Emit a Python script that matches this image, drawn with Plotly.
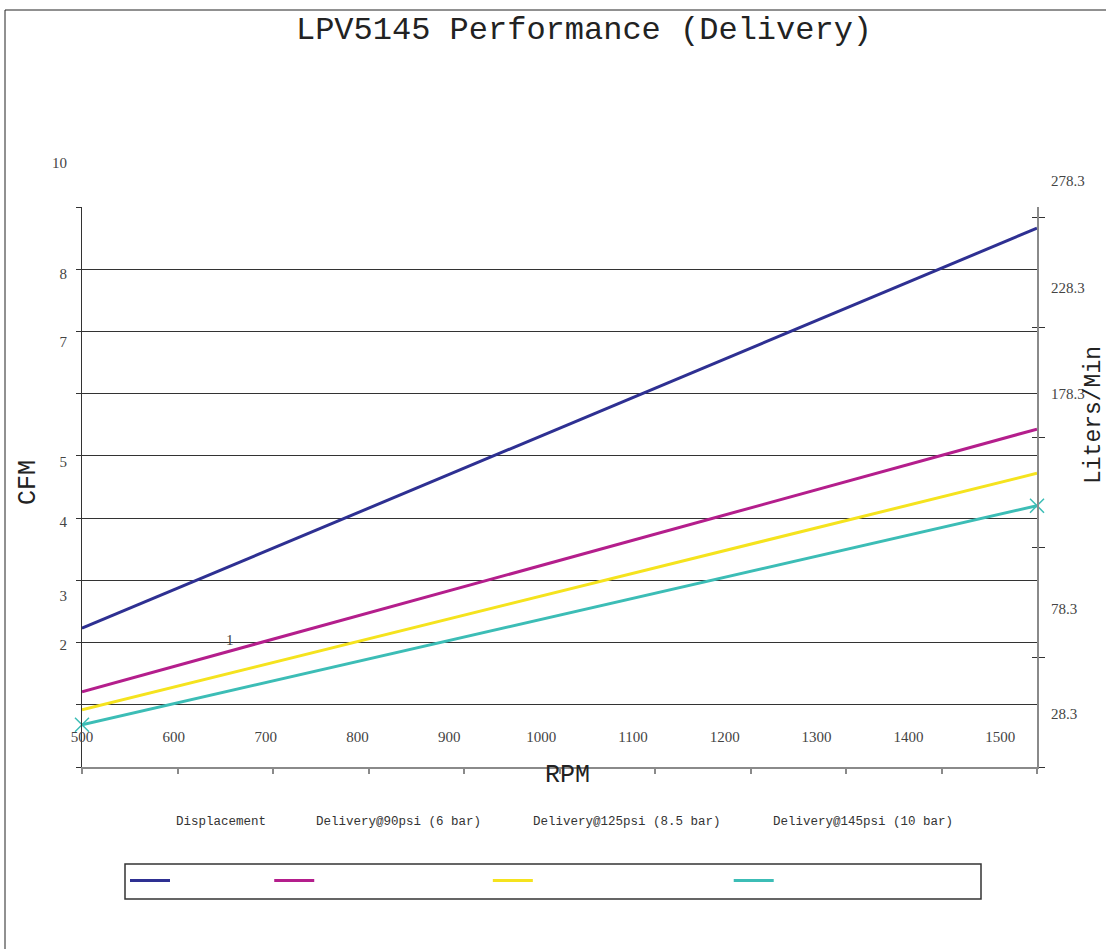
import plotly.graph_objects as go

# ---------------- data ----------------
rpm = [500, 1540]
displacement = [2.23, 8.66]
delivery_90 = [1.21, 5.43]
delivery_125 = [0.92, 4.72]
delivery_145 = [0.68, 4.20]

series_names = ["Displacement", "Delivery@90psi (6 bar)",
                "Delivery@125psi (8.5 bar)", "Delivery@145psi (10 bar)"]
series_colors = ["#2E3092", "#B41E8C", "#F5E31E", "#3CBDB6"]

x_tick_vals = [500, 600, 700, 800, 900, 1000, 1100, 1200, 1300, 1400, 1500]
x_tick_text = [str(v) for v in x_tick_vals]

# left CFM labels (as printed) and their printed positions in CFM units
cfm_label_text = ["10", "8", "7", "5", "4", "3", "2"]
cfm_label_pos = [9.715, 7.93, 6.83, 4.90, 3.94, 2.76, 1.96]

# right Liters/Min labels (as printed) and their printed positions in CFM units
lpm_label_text = ["278.3", "228.3", "178.3", "78.3", "28.3"]
lpm_label_pos = [9.418, 7.707, 6.0, 2.539, 0.86]

# ---------------- layout constants ----------------
W, H = 1106, 949
ML, MR, MT, MB = 82, 69, 140, 182
PW, PH = W - ML - MR, H - MT - MB          # 955 x 627
PX_PER_CFM = 560 / 9
Y_DOMAIN_TOP = 560 / PH
LABEL_RANGE_TOP = PH / PX_PER_CFM

serif = "Liberation Serif"
mono = "Liberation Mono"
grid_col = "#333333"
axis_gray = "#8a8a8a"
label_col = "#444444"


def px(x):
    return (x - ML) / PW


def py(y):
    return (767 - y) / PH


fig = go.Figure()

for name, vals, col in zip(series_names,
                           [displacement, delivery_90, delivery_125, delivery_145],
                           series_colors):
    fig.add_trace(go.Scatter(x=rpm, y=vals, mode="lines", name=name,
                             line=dict(color=col, width=3)))

fig.add_trace(go.Scatter(x=rpm, y=delivery_145, mode="markers", showlegend=False,
                         hoverinfo="skip", cliponaxis=False,
                         marker=dict(symbol="x-thin", size=14,
                                     line=dict(color=series_colors[3], width=1.5))))

# empty traces so that helper axes are drawn
for xa, ya in [("x", "y2"), ("x", "y5"), ("x2", "y"), ("x3", "y"), ("x", "y3"), ("x", "y4")]:
    fig.add_trace(go.Scatter(x=[None], y=[None], xaxis=xa, yaxis=ya,
                             showlegend=False, hoverinfo="skip", mode="lines"))

fig.add_annotation(x=661, y=2.04, xref="x", yref="y", text="1", showarrow=False,
                   xanchor="center", yanchor="middle",
                   font=dict(family=serif, size=15, color=label_col))

# axis titles
fig.add_annotation(x=px(28), y=py(483), xref="paper", yref="paper",
                   text="CFM", textangle=-90, showarrow=False,
                   xanchor="center", yanchor="middle",
                   font=dict(family=mono, size=25, color="#222"))
fig.add_annotation(x=px(567), y=py(775), xref="paper", yref="paper",
                   text="RPM", showarrow=False, xanchor="center", yanchor="middle",
                   font=dict(family=mono, size=25, color="#222"))
fig.add_annotation(x=px(1094), y=py(415), xref="paper", yref="paper",
                   text="Liters/Min", textangle=-90, showarrow=False,
                   xanchor="center", yanchor="middle",
                   font=dict(family=mono, size=23, color="#222"))

# legend captions above the legend box
for name, cx in zip(series_names, [220.5, 398.5, 627, 863]):
    fig.add_annotation(x=px(cx), y=py(822), xref="paper", yref="paper",
                       text=name, showarrow=False, xanchor="center", yanchor="middle",
                       font=dict(family=mono, size=12.5, color="#333"))

# legend box and outer frame
fig.add_shape(type="rect", xref="paper", yref="paper",
              x0=px(125), x1=px(981), y0=py(899), y1=py(864),
              line=dict(color="#333", width=1.5))
fig.add_shape(type="rect", xref="paper", yref="paper",
              x0=px(5), x1=1.3, y0=-0.6, y1=py(10),
              line=dict(color="#222", width=1))

fig.update_layout(
    width=W, height=H,
    margin=dict(l=ML, r=MR, t=MT, b=MB, autoexpand=False),
    paper_bgcolor="white", plot_bgcolor="rgba(0,0,0,0)",
    title=dict(text="LPV5145 Performance (Delivery)", x=584 / W, xref="container",
               y=1 - 28 / H, yref="container", xanchor="center", yanchor="middle",
               font=dict(family=mono, size=32, color="#222")),
    showlegend=True,
    legend=dict(orientation="h", x=px(125), y=py(881),
                xanchor="left", yanchor="middle", bgcolor="rgba(0,0,0,0)",
                borderwidth=0, itemwidth=40,
                font=dict(family=mono, size=12.4, color="rgba(0,0,0,0)")),
    xaxis=dict(range=[500, 1540], domain=[0, 1], showgrid=False, zeroline=False,
               showline=True, linecolor=axis_gray, linewidth=1.5, ticks="",
               showticklabels=False),
    xaxis2=dict(overlaying="x", anchor="y", side="bottom", range=[0, 10], dtick=1,
                tick0=0, showgrid=False, zeroline=False, showline=False,
                ticks="outside", ticklen=6, tickcolor=axis_gray, tickwidth=1.5,
                showticklabels=False),
    xaxis3=dict(overlaying="x", anchor="free", position=0.066, side="bottom",
                range=[500, 1540], tickvals=x_tick_vals, ticktext=x_tick_text,
                showgrid=False, zeroline=False, showline=False, ticks="",
                tickfont=dict(family=serif, size=15, color=label_col)),
    yaxis=dict(domain=[0, Y_DOMAIN_TOP], range=[0, 9], dtick=1, tick0=0,
               showgrid=True, gridcolor=grid_col, gridwidth=1, zeroline=False,
               showline=True, linecolor=grid_col, linewidth=1,
               ticks="outside", ticklen=5, tickcolor=grid_col, showticklabels=False),
    yaxis2=dict(overlaying="y", anchor="x", side="right", range=[0, 560 / 109.9],
                dtick=1, tick0=0, showgrid=False, zeroline=False, showline=True,
                linecolor=axis_gray, linewidth=1.5, ticks="outside", ticklen=6,
                tickcolor=grid_col, showticklabels=False),
    yaxis5=dict(overlaying="y", anchor="x", side="right", range=[0, 560 / 109.9],
                dtick=1, tick0=0, showgrid=False, zeroline=False, showline=False,
                ticks="inside", ticklen=5, tickcolor=grid_col, showticklabels=False),
    yaxis3=dict(domain=[0, 1], anchor="free", position=0, side="left",
                range=[0, LABEL_RANGE_TOP], tickvals=cfm_label_pos,
                ticktext=cfm_label_text, showgrid=False, zeroline=False,
                showline=False, ticks="outside", ticklen=12,
                tickcolor="rgba(0,0,0,0)",
                tickfont=dict(family=serif, size=15, color=label_col)),
    yaxis4=dict(domain=[0, 1], anchor="free", position=1, side="right",
                range=[0, LABEL_RANGE_TOP], tickvals=lpm_label_pos,
                ticktext=lpm_label_text, showgrid=False, zeroline=False,
                showline=False, ticks="outside", ticklen=10,
                tickcolor="rgba(0,0,0,0)",
                tickfont=dict(family=serif, size=15, color=label_col)),
)

fig.write_html("out.html", config={"displayModeBar": False},
               post_script="document.body.style.margin='0';")
